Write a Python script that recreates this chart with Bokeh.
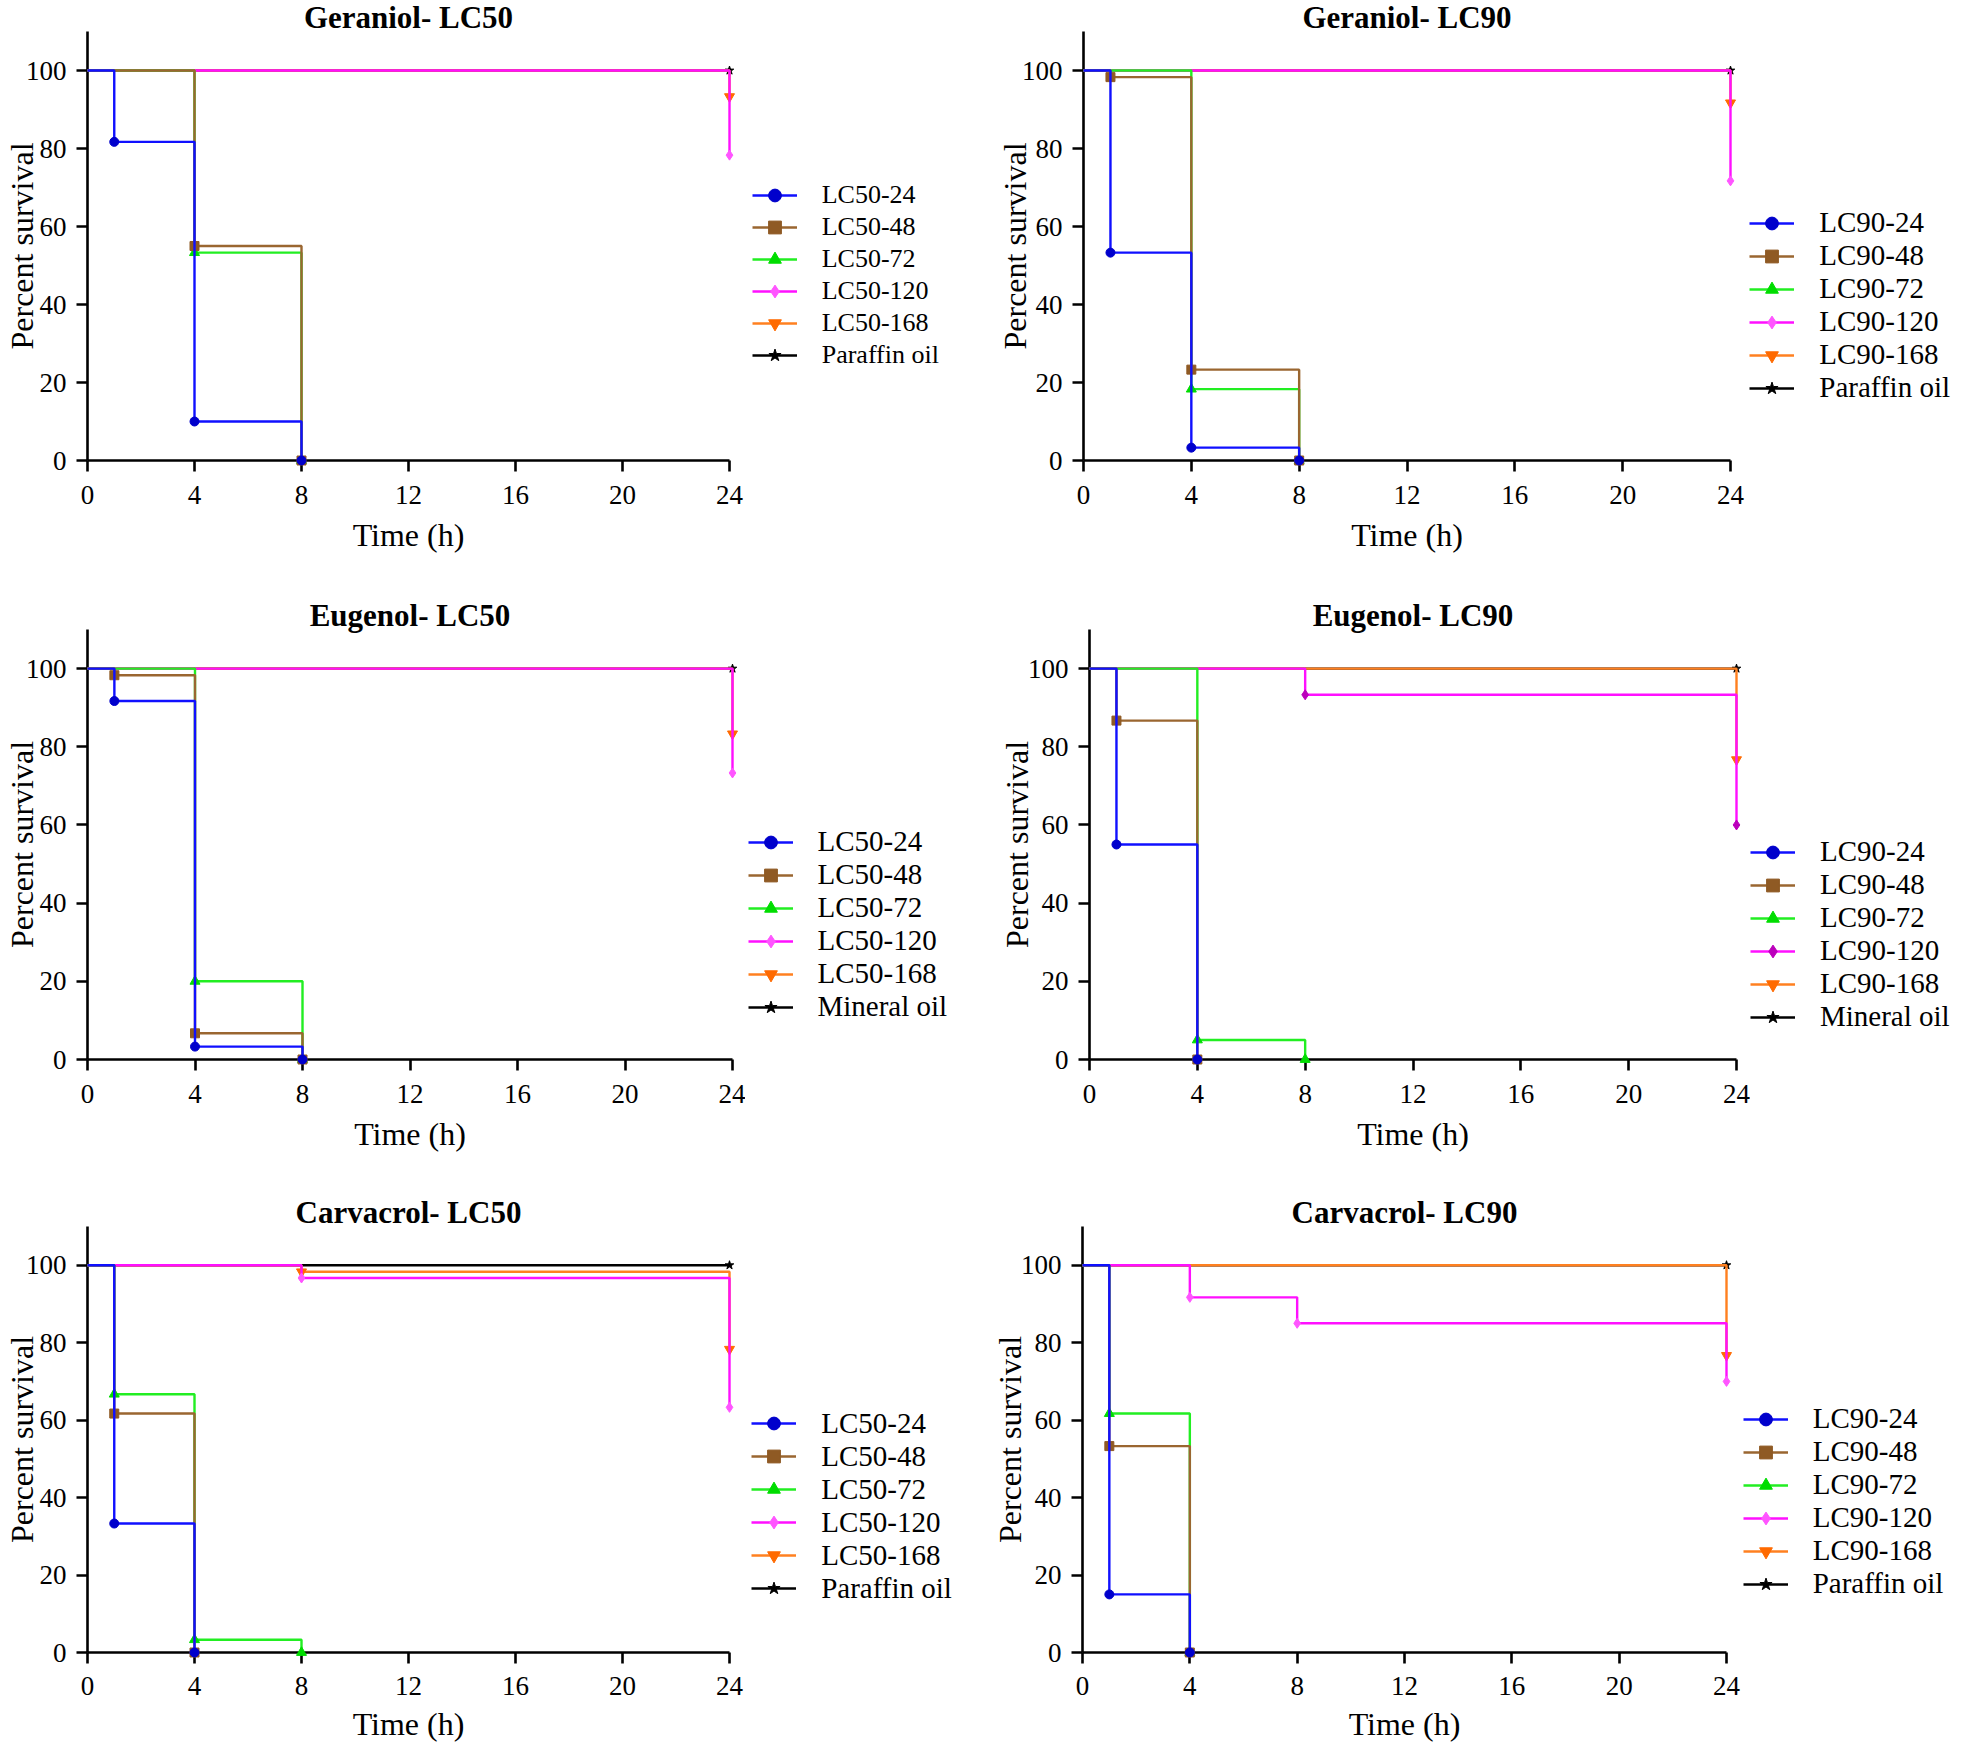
from bokeh.plotting import figure
from bokeh.layouts import column, row
from bokeh.models import Range1d, FixedTicker, Legend, LegendItem
from bokeh.embed import file_html
from bokeh.resources import INLINE

# ---------------- data ----------------
TIME_TICKS = [0, 4, 8, 12, 16, 20, 24]
SURV_TICKS = [0, 20, 40, 60, 80, 100]
X_MAX = 24
Y_MAX = 110

LC50_PARAFFIN = ["LC50-24", "LC50-48", "LC50-72", "LC50-120", "LC50-168", "Paraffin oil"]
LC90_PARAFFIN = ["LC90-24", "LC90-48", "LC90-72", "LC90-120", "LC90-168", "Paraffin oil"]
LC50_MINERAL = ["LC50-24", "LC50-48", "LC50-72", "LC50-120", "LC50-168", "Mineral oil"]
LC90_MINERAL = ["LC90-24", "LC90-48", "LC90-72", "LC90-120", "LC90-168", "Mineral oil"]

GER_LC50_TIMES = [[0, 1, 4, 8], [0, 4, 8], [0, 4, 8], [0, 24], [0, 24], [0, 24]]
GER_LC50_SURV = [[100, 81.7, 10, 0], [100, 55, 0], [100, 53.3, 0], [100, 78.3], [100, 93.3], [100, 100]]

GER_LC90_TIMES = [[0, 1, 4, 8], [0, 1, 4, 8], [0, 4, 8], [0, 24], [0, 24], [0, 24]]
GER_LC90_SURV = [[100, 53.3, 3.3, 0], [100, 98.3, 23.3, 0], [100, 18.3, 0], [100, 71.7], [100, 91.7], [100, 100]]

EUG_LC50_TIMES = [[0, 1, 4, 8], [0, 1, 4, 8], [0, 4, 8], [0, 24], [0, 24], [0, 24]]
EUG_LC50_SURV = [[100, 91.7, 3.3, 0], [100, 98.3, 6.7, 0], [100, 20, 0], [100, 73.3], [100, 83.3], [100, 100]]

EUG_LC90_TIMES = [[0, 1, 4], [0, 1, 4], [0, 4, 8], [0, 8, 24], [0, 24], [0, 24]]
EUG_LC90_SURV = [[100, 55, 0], [100, 86.7, 0], [100, 5, 0], [100, 93.3, 60], [100, 76.7], [100, 100]]

CAR_LC50_TIMES = [[0, 1, 4], [0, 1, 4], [0, 1, 4, 8], [0, 8, 24], [0, 8, 24], [0, 24]]
CAR_LC50_SURV = [[100, 33.3, 0], [100, 61.7, 0], [100, 66.7, 3.3, 0], [100, 96.7, 63.3], [100, 98.3, 78.3], [100, 100]]

CAR_LC90_TIMES = [[0, 1, 4], [0, 1, 4], [0, 1, 4], [0, 4, 8, 24], [0, 24], [0, 24]]
CAR_LC90_SURV = [[100, 15, 0], [100, 53.3, 0], [100, 61.7, 0], [100, 91.7, 85, 70], [100, 76.7], [100, 100]]

# ---------------- style ----------------
LINE_COLORS = ["#1010FF", "#9A6630", "#22EE22", "#FF10FF", "#FF8020", "#000000"]
MARKER_COLORS = ["#0000CC", "#8F5A24", "#00DD00", "#FF55FF", "#FF6A00", "#000000"]
MARKERS = ["circle", "square", "triangle", "diamond", "inverted_triangle", "star"]
MARKER_SIZES = [9, 9, 10, 10, 10, 9]
FONT = "Liberation Serif"


def make_panel(title, labels, times, surv, g):
    b = g["h"] - g["t"] - g["fh"]
    p = figure(width=g["w"], height=g["h"],
               x_range=Range1d(0, X_MAX), y_range=Range1d(0, Y_MAX),
               output_backend="svg", toolbar_location=None,
               min_border_left=g["l"], min_border_right=g["w"] - g["l"] - g["fw"],
               min_border_top=g["t"], min_border_bottom=b)
    p.outline_line_color = None
    p.grid.visible = False
    p.background_fill_color = "white"
    p.border_fill_color = "white"

    p.title.text = title
    p.title.text_font = FONT
    p.title.text_font_style = "bold"
    p.title.text_font_size = "31px"
    p.title.text_color = "black"
    p.title.align = "center"
    p.title.standoff = g["tso"]

    p.xaxis.ticker = FixedTicker(ticks=TIME_TICKS)
    p.yaxis.ticker = FixedTicker(ticks=SURV_TICKS)
    for ax in (p.xaxis, p.yaxis):
        ax.axis_line_width = 2.6
        ax.axis_line_color = "black"
        ax.major_tick_line_width = 2.6
        ax.major_tick_line_color = "black"
        ax.major_tick_out = 11
        ax.major_tick_in = 0
        ax.minor_tick_line_color = None
        ax.major_label_text_font = FONT
        ax.major_label_text_font_size = "27px"
        ax.major_label_text_color = "black"
        ax.axis_label_text_font = FONT
        ax.axis_label_text_font_style = "normal"
        ax.axis_label_text_color = "black"
    p.xaxis.axis_label = "Time (h)"
    p.xaxis.axis_label_text_font_size = "32px"
    p.xaxis.major_label_standoff = g["xtso"]
    p.xaxis.axis_label_standoff = g["xlso"]
    p.yaxis.axis_label = "Percent survival"
    p.yaxis.axis_label_text_font_size = "32px"
    p.yaxis.major_label_standoff = 10
    p.yaxis.axis_label_standoff = g["ylso"]

    mcolors = list(MARKER_COLORS)
    if "mc120" in g:
        mcolors[3] = g["mc120"]

    for i in reversed(range(len(labels))):
        ln = p.step(times[i], surv[i], mode="after", line_color=LINE_COLORS[i], line_width=2.4)
        sc = p.scatter(times[i][1:], surv[i][1:], marker=MARKERS[i], size=MARKER_SIZES[i],
                       fill_color=mcolors[i], line_color=mcolors[i])
        ln.level = "overlay"
        sc.level = "overlay"

    # legend panel: a separate canvas to the right; its key glyphs come from the same
    # series, drawn outside that canvas's visible range so only the legend shows
    lg = figure(width=g["legw"], height=g["h"], output_backend="svg", toolbar_location=None,
                x_axis_location=None, y_axis_location=None,
                x_range=Range1d(-3, -2), y_range=Range1d(-3, -2),
                min_border_left=0, min_border_right=0, min_border_top=g["t"], min_border_bottom=b)
    lg.outline_line_color = None
    lg.grid.visible = False
    lg.background_fill_color = "white"
    lg.border_fill_color = "white"
    items = []
    for i in range(len(labels)):
        ln = lg.step(times[i], surv[i], mode="after", line_color=LINE_COLORS[i], line_width=2.4)
        sc = lg.scatter(times[i][1:], surv[i][1:], marker=MARKERS[i], size=MARKER_SIZES[i],
                        fill_color=mcolors[i], line_color=mcolors[i])
        items.append(LegendItem(label=labels[i], renderers=[ln, sc]))
    legend = Legend(items=items, location=g["leg"], padding=0, margin=0, spacing=0,
                    glyph_width=45, glyph_height=32, label_height=32, label_standoff=25,
                    label_text_font=FONT, label_text_font_size=g["lfs"], label_text_color="black",
                    border_line_color=None, background_fill_alpha=0)
    lg.add_layout(legend)
    return p, lg


G1 = dict(w=748, h=590, l=87, fw=642, t=31, fh=429, tso=-6, xtso=14, xlso=10, ylso=-17,
          legw=232, leg=(3.7, 89), lfs="26px")
G2 = dict(w=767, h=590, l=103, fw=647, t=31, fh=429, tso=-6, xtso=14, xlso=10, ylso=-14,
          legw=214, leg=(2.3, 56), lfs="29px")
G3 = dict(w=745, h=596, l=87, fw=645, t=39, fh=430, tso=-7, xtso=14, xlso=10, ylso=-17,
          legw=235, leg=(2.5, 36), lfs="29px")
G4 = dict(w=770, h=596, l=109, fw=647, t=39, fh=430, tso=-7, xtso=14, xlso=10, ylso=-10,
          legw=211, leg=(0, 26), lfs="29px", mc120="#BB00BB")
G5 = dict(w=748, h=558, l=87, fw=642, t=40, fh=428, tso=-7, xtso=13, xlso=8, ylso=-17,
          legw=232, leg=(3.2, 47.5), lfs="29px")
G6 = dict(w=761, h=558, l=102, fw=644, t=40, fh=428, tso=-7, xtso=13, xlso=8, ylso=-10,
          legw=220, leg=(1.7, 52), lfs="29px")

p1, l1 = make_panel("Geraniol- LC50", LC50_PARAFFIN, GER_LC50_TIMES, GER_LC50_SURV, G1)
p2, l2 = make_panel("Geraniol- LC90", LC90_PARAFFIN, GER_LC90_TIMES, GER_LC90_SURV, G2)
p3, l3 = make_panel("Eugenol- LC50", LC50_MINERAL, EUG_LC50_TIMES, EUG_LC50_SURV, G3)
p4, l4 = make_panel("Eugenol- LC90", LC90_MINERAL, EUG_LC90_TIMES, EUG_LC90_SURV, G4)
p5, l5 = make_panel("Carvacrol- LC50", LC50_PARAFFIN, CAR_LC50_TIMES, CAR_LC50_SURV, G5)
p6, l6 = make_panel("Carvacrol- LC90", LC90_PARAFFIN, CAR_LC90_TIMES, CAR_LC90_SURV, G6)

layout = column(row(p1, l1, p2, l2), row(p3, l3, p4, l4), row(p5, l5, p6, l6))
open("out.html", "w").write(file_html(layout, INLINE))
